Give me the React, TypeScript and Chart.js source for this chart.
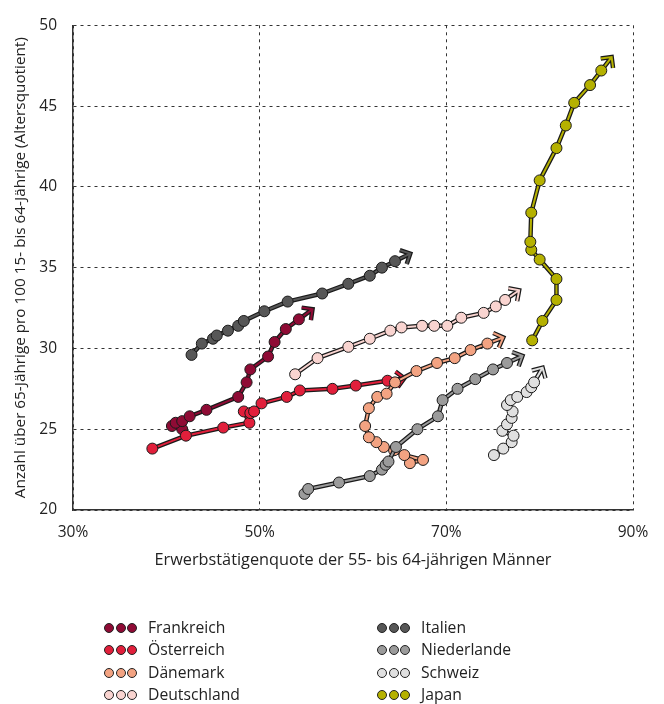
import React, { useEffect, useRef } from "react";
import { Chart, registerables } from "chart.js";
Chart.register(...registerables);

const FONT = "'Open Sans', Lato, sans-serif";

const countries = ["Frankreich", "Österreich", "Dänemark", "Deutschland", "Italien", "Niederlande", "Schweiz", "Japan"];
const colors = ["#8f0b35", "#e11f3b", "#f3a382", "#f9d4d0", "#575757", "#9b9b9b", "#e0e0e0", "#b5b100"];

const frankreichX = [40.6, 41.7, 41.0, 41.7, 42.5, 44.3, 47.7, 48.6, 49.0, 50.9, 51.6, 52.8, 54.2];
const frankreichY = [25.2, 25.0, 25.4, 25.5, 25.8, 26.2, 27.0, 27.9, 28.7, 29.5, 30.4, 31.2, 31.8];

const oesterreichX = [38.5, 42.1, 46.1, 48.9, 48.3, 49.0, 49.4, 50.2, 52.9, 54.3, 57.8, 60.3, 63.7];
const oesterreichY = [23.8, 24.6, 25.1, 25.4, 26.1, 26.0, 26.1, 26.6, 27.0, 27.4, 27.5, 27.7, 28.0];

const daenemarkX = [66.1, 67.5, 65.5, 64.4, 63.3, 62.5, 61.7, 61.3, 61.7, 62.6, 63.6, 64.5, 66.8, 69.0, 70.9, 72.6, 74.4];
const daenemarkY = [22.9, 23.1, 23.4, 23.7, 23.9, 24.2, 24.5, 25.2, 26.3, 27.0, 27.2, 27.9, 28.6, 29.1, 29.4, 29.9, 30.3];

const deutschlandX = [53.8, 56.2, 59.5, 61.8, 64.0, 65.2, 67.4, 68.7, 70.1, 71.6, 74.0, 75.3, 76.3];
const deutschlandY = [28.4, 29.4, 30.1, 30.6, 31.1, 31.3, 31.4, 31.4, 31.4, 31.9, 32.2, 32.6, 33.0];

const italienX = [42.7, 43.8, 45.0, 45.4, 46.6, 47.7, 48.3, 50.5, 53.0, 56.7, 59.5, 61.8, 63.1, 64.5];
const italienY = [29.6, 30.3, 30.6, 30.8, 31.1, 31.4, 31.7, 32.3, 32.9, 33.4, 34.0, 34.5, 35.0, 35.4];

const niederlandeX = [54.8, 55.2, 58.5, 61.8, 63.1, 63.5, 63.8, 64.6, 66.9, 69.1, 69.6, 71.2, 73.1, 75.0, 76.5];
const niederlandeY = [21.0, 21.3, 21.7, 22.1, 22.5, 22.8, 23.0, 23.9, 25.0, 25.8, 26.8, 27.5, 28.1, 28.7, 29.1];

const schweizX = [75.1, 76.1, 77.0, 77.2, 76.0, 76.5, 77.0, 77.1, 76.5, 76.9, 77.6, 78.6, 79.1, 79.4];
const schweizY = [23.4, 23.8, 24.2, 24.6, 24.9, 25.3, 25.7, 26.1, 26.5, 26.8, 27.0, 27.3, 27.6, 27.9];

const japanX = [79.2, 80.3, 81.8, 81.8, 80.0, 79.1, 79.0, 79.1, 80.0, 81.8, 82.8, 83.7, 85.4, 86.6];
const japanY = [30.5, 31.7, 33.0, 34.3, 35.5, 36.1, 36.6, 38.4, 40.4, 42.4, 43.8, 45.2, 46.3, 47.2];

const seriesX = [frankreichX, oesterreichX, daenemarkX, deutschlandX, italienX, niederlandeX, schweizX, japanX];
const seriesY = [frankreichY, oesterreichY, daenemarkY, deutschlandY, italienY, niederlandeY, schweizY, japanY];

const xTicks = [30, 50, 70, 90];
const yTicks = [20, 25, 30, 35, 40, 45, 50];

const xTitle = "Erwerbstätigenquote der 55- bis 64-jährigen Männer";
const yTitle = "Anzahl über 65-Jährige pro 100 15- bis 64-Jährige (Altersquotient)";

const OUTLINE = "#1a1a1a";

const arrowPlugin = {
  id: "outlineArrow",
  beforeDatasetDraw(chart: any, args: any) {
    const meta = args.meta;
    const pts = meta.data;
    if (!pts || pts.length < 2) return;
    const ctx = chart.ctx;
    const color = chart.data.datasets[args.index].borderColor;
    const p = pts[pts.length - 1];
    const q = pts[pts.length - 2];
    let dx = p.x - q.x;
    let dy = p.y - q.y;
    const len = Math.hypot(dx, dy) || 1;
    dx /= len;
    dy /= len;
    const shaft = 17;
    const arm = 11;
    const tx = p.x + dx * shaft;
    const ty = p.y + dy * shaft;
    const ang = Math.atan2(dy, dx);
    const a1 = ang + Math.PI * 0.75;
    const a2 = ang - Math.PI * 0.75;
    const l1x = tx + Math.cos(a1) * arm;
    const l1y = ty + Math.sin(a1) * arm;
    const l2x = tx + Math.cos(a2) * arm;
    const l2y = ty + Math.sin(a2) * arm;

    const arrowPath = () => {
      ctx.beginPath();
      ctx.moveTo(p.x, p.y);
      ctx.lineTo(tx, ty);
      ctx.moveTo(l1x, l1y);
      ctx.lineTo(tx, ty);
      ctx.lineTo(l2x, l2y);
    };

    ctx.save();
    ctx.lineCap = "butt";
    ctx.beginPath();
    pts.forEach((pt: any, i: number) => (i ? ctx.lineTo(pt.x, pt.y) : ctx.moveTo(pt.x, pt.y)));
    ctx.strokeStyle = OUTLINE;
    ctx.lineWidth = 4.5;
    ctx.lineJoin = "round";
    ctx.stroke();
    ctx.lineJoin = "miter";
    arrowPath();
    ctx.lineWidth = 4.5;
    ctx.strokeStyle = OUTLINE;
    ctx.stroke();
    arrowPath();
    ctx.lineWidth = 2;
    ctx.strokeStyle = color;
    ctx.stroke();
    ctx.restore();
  },
};

const legendRows = [0, 1, 2, 3];

function LegendItem({ name, color, left, top }: { name: string; color: string; left: number; top: number }) {
  const dot = (k: number) => (
    <span
      key={k}
      style={{
        position: "absolute",
        left: k * 11.5,
        top: 4,
        width: 8,
        height: 8,
        borderRadius: "50%",
        background: color,
        border: "1px solid #222",
      }}
    />
  );
  return (
    <div style={{ position: "absolute", left, top, height: 18, width: 220 }}>
      {[0, 1, 2].map(dot)}
      <span
        style={{
          position: "absolute",
          left: 44,
          top: -1,
          fontFamily: FONT,
          fontSize: 15.7,
          lineHeight: "18px",
          color: "#222",
          whiteSpace: "nowrap",
        }}
      >
        {name}
      </span>
    </div>
  );
}

export default function App() {
  const ref = useRef<HTMLCanvasElement | null>(null);

  useEffect(() => {
    if (!ref.current) return;
    const datasets = countries.map((name, i) => ({
      label: name,
      data: seriesX[i].map((x, j) => ({ x, y: seriesY[i][j] })),
      showLine: true,
      borderColor: colors[i],
      borderWidth: 2,
      backgroundColor: colors[i],
      pointRadius: 5.5,
      pointBackgroundColor: colors[i],
      pointBorderColor: OUTLINE,
      pointBorderWidth: 1,
      tension: 0,
      order: countries.length - i,
    }));
    const chart = new Chart(ref.current, {
      type: "scatter",
      data: { datasets },
      plugins: [arrowPlugin],
      options: {
        animation: false,
        responsive: false,
        devicePixelRatio: 1,
        layout: { padding: { top: 23, right: 31, bottom: 134, left: 0 } },
        plugins: { legend: { display: false }, tooltip: { enabled: false } },
        scales: {
          x: {
            type: "linear",
            min: 30,
            max: 90,
            afterBuildTicks: (s: any) => {
              s.ticks = xTicks.map((v) => ({ value: v }));
            },
            afterFit: (s: any) => {
              s.height = 60;
            },
            ticks: {
              padding: 13,
              color: "#222",
              font: { family: FONT, size: 15.5 },
              callback: (v: any) => v + "%",
              maxRotation: 0,
            },
            grid: { color: "#333", lineWidth: 1, drawTicks: false },
            border: { display: true, color: "#333", width: 1.5, dash: [3, 4] },
            title: {
              display: true,
              text: xTitle,
              color: "#222",
              font: { family: FONT, size: 16.3 },
              padding: { top: 0, bottom: 0 },
            },
          },
          y: {
            type: "linear",
            min: 20,
            max: 50,
            afterBuildTicks: (s: any) => {
              s.ticks = yTicks.map((v) => ({ value: v }));
            },
            afterFit: (s: any) => {
              s.width = 73;
            },
            ticks: {
              padding: 16,
              color: "#222",
              font: { family: FONT, size: 15.5 },
            },
            grid: { color: "#333", lineWidth: 1, drawTicks: false },
            border: { display: true, color: "#333", width: 1.5, dash: [3, 4] },
            title: {
              display: true,
              text: yTitle,
              color: "#222",
              font: { family: FONT, size: 15.3 },
              padding: { top: 11, bottom: 0 },
            },
          },
        },
      },
    } as any);
    return () => chart.destroy();
  }, []);

  return (
    <div style={{ position: "fixed", left: 0, top: 0, width: 664, height: 704, background: "#fff" }}>
      <canvas ref={ref} width={664} height={704} style={{ position: "absolute", left: 0, top: 0 }} />
      {legendRows.map((r) => (
        <LegendItem key={"l" + r} name={countries[r]} color={colors[r]} left={104} top={619 + r * 22.4} />
      ))}
      {legendRows.map((r) => (
        <LegendItem key={"r" + r} name={countries[r + 4]} color={colors[r + 4]} left={377} top={619 + r * 22.4} />
      ))}
    </div>
  );
}
